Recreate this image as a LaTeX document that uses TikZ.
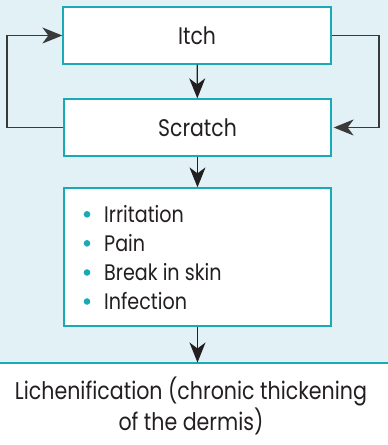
\documentclass[tikz,border=0pt]{standalone}
\usepackage{fontspec}
\setmainfont{Poppins}[FakeStretch=0.85]
\usetikzlibrary{arrows.meta}
\definecolor{bgblue}{HTML}{E1F1F5}
\definecolor{tealc}{HTML}{1AAAB5}
\definecolor{ink}{HTML}{231F20}
\definecolor{linec}{HTML}{3A3A3A}
\tikzset{
  box/.style={draw=tealc, line width=1.3pt, fill=white, inner sep=0pt},
  arr/.style={draw=ink, line width=1.3pt, -{Stealth[length=20pt,width=16pt,inset=6pt]}},
  loopline/.style={draw=linec, line width=1.3pt, -{Stealth[length=20pt,width=16pt,inset=6pt]}},
  item/.style={anchor=base west, inner sep=0pt, font=\fontsize{22.5}{27}\selectfont, text=ink},
  big/.style={font=\fontsize{24}{28}\selectfont, text=ink},
}
\begin{document}
\begin{tikzpicture}[x=1pt,y=-1pt]
\useasboundingbox (0,0) rectangle (388,445);
\fill[bgblue] (0,0) rectangle (388,363);
\fill[white] (0,363) rectangle (388,445);
\draw[tealc, line width=1.5pt] (0,363) -- (388,363);
\node[box, big, minimum width=268pt, minimum height=57pt] (itch) at (197,35.5) {Itch};
\node[box, big, minimum width=267pt, minimum height=57pt] (scratch) at (197.5,127.5) {Scratch};
\node[box, minimum width=267pt, minimum height=138pt] (list) at (197.5,257) {};
\fill[tealc] (87,214.3) circle (3.3pt);
\fill[tealc] (87,243.3) circle (3.3pt);
\fill[tealc] (87,272.5) circle (3.3pt);
\fill[tealc] (87,301.5) circle (3.3pt);
\node[item] (i1) at (104,222.7) {Irritation};
\node[item] (i2) at (104,251.5) {Pain};
\node[item] (i3) at (104,280.5) {Break in skin};
\node[item] (i4) at (104,309.3) {Infection};
\coordinate (bot) at (197.5,362.5);
\coordinate (lc) at (7,127.5);
\coordinate (rc) at (379,35.5);
\draw[arr] (itch) -- (scratch);
\draw[arr] (scratch) -- (list);
\draw[arr] (list) -- (bot);
\draw[loopline] (scratch.west) -- (lc) |- (itch.west);
\draw[loopline] (itch.east) -- (rc) |- ([xshift=2pt]scratch.east);
\node[align=center, text=ink, font=\fontsize{24.2}{28}\selectfont, inner sep=0pt] (lich) at (191,406) {Lichenification (chronic thickening\\of the dermis)};
\end{tikzpicture}
\end{document}
